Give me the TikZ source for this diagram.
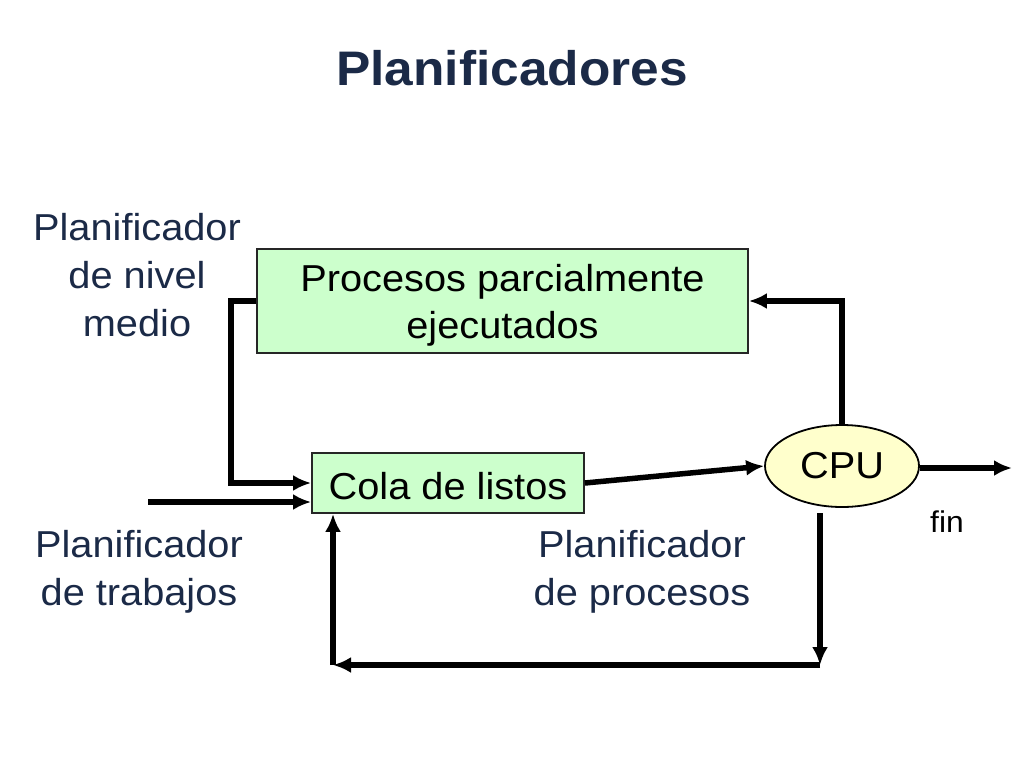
\documentclass[tikz,border=0pt]{standalone}
\usepackage{fontspec}
\setmainfont[FakeStretch=1.06]{Liberation Sans}
\usetikzlibrary{arrows.meta,shapes.geometric}
\definecolor{navy}{HTML}{1B2A47}
\definecolor{boxgreen}{HTML}{CCFFCC}
\definecolor{cpuyellow}{HTML}{FFFFCC}
\tikzset{
  box/.style={draw=black!85, line width=1.8pt, fill=boxgreen, inner sep=0pt},
  boxtext/.style={inner sep=0pt, align=center, font=\fontsize{37.5}{47}\selectfont},
  cpustyle/.style={ellipse, draw=black, line width=1.8pt, fill=cpuyellow, inner sep=0pt, minimum width=154pt, minimum height=82pt, font=\fontsize{37.5}{42}\selectfont},
  lbl/.style={text=navy, align=center, font=\fontsize{37.5}{48}\selectfont},
  conn/.style={line width=5.5pt, -{Latex[length=18pt,width=16pt]}}
}
\begin{document}
\begin{tikzpicture}[x=1pt,y=-1pt]
\useasboundingbox (0,0) rectangle (1024,768);
\node[font=\fontsize{48.5}{52}\selectfont\bfseries, text=navy] (title) at (512,68) {Planificadores};
\node[box, minimum width=491pt, minimum height=104pt] (proc) at (502.5,301) {};
\node[boxtext] (proctext) at ([yshift=-4pt]proc.center) {Procesos parcialmente\\ejecutados};
\node[box, minimum width=272pt, minimum height=60pt] (cola) at (448,483) {};
\node[boxtext] (colatext) at ([yshift=-3pt]cola.center) {Cola de listos};
\node[cpustyle] (cpu) at (842,466) {CPU};
\node[lbl] (lmed) at (137,275) {Planificador\\de nivel\\medio};
\node[lbl] (ltrab) at (139,572) {Planificador\\de trabajos};
\node[lbl] (lproc) at (642,572) {Planificador\\de procesos};
\node[font=\fontsize{30}{34}\selectfont] (fin) at (947,522) {fin};
\coordinate (in) at (148,502);
\coordinate (finend) at (1012,468);
\coordinate (b1) at (820,513);
\coordinate (b2) at (820,665);
\coordinate (b3) at (333,665);
\draw[conn] (proc.west) -- ++(-25,0) |- (cola.west);
\draw[conn] (in) -- (in -| cola.west);
\draw[conn] (cola.east) -- (cpu.west);
\draw[conn] (cpu.north) |- (proc.east);
\draw[conn] ([yshift=-2pt]cpu.east) -- (finend);
\draw[conn] (b1) -- (b2);
\draw[conn] (b2) -- (b3);
\draw[conn] (b3) -- (b3 |- cola.south);
\end{tikzpicture}
\end{document}
